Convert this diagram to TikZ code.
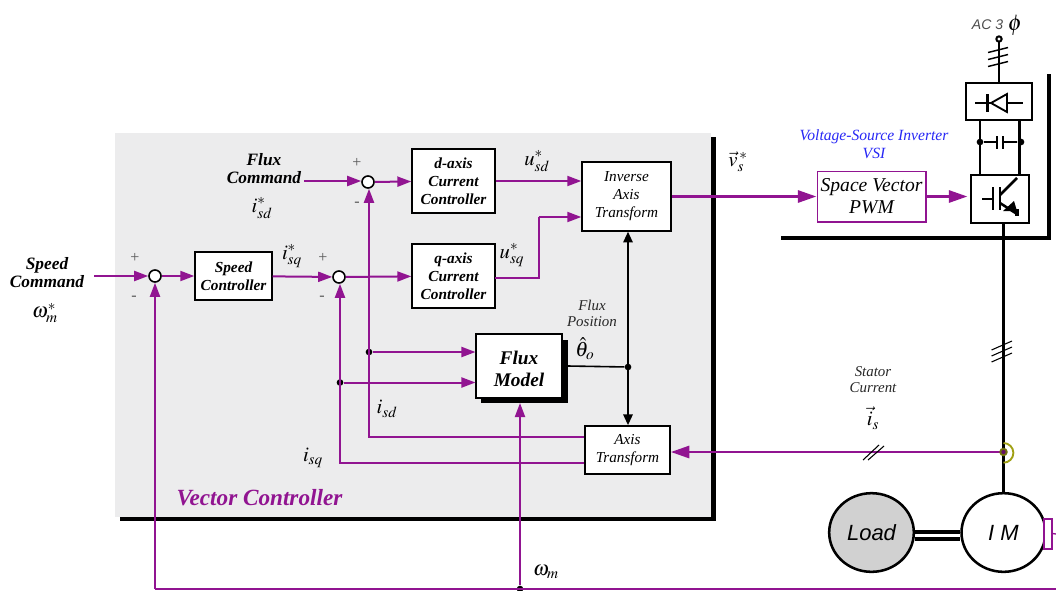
\documentclass[tikz,border=0pt]{standalone}
\usepackage{mathptmx}
\usepackage[no-math]{fontspec}
\setmainfont{Liberation Serif}
\setsansfont{Liberation Sans}
\usetikzlibrary{arrows.meta,shapes.geometric}

\definecolor{sigpurple}{RGB}{145,20,145}
\definecolor{panelgray}{RGB}{236,236,237}
\definecolor{vsiblue}{RGB}{40,40,245}
\definecolor{sensorolive}{RGB}{160,160,20}

\tikzset{
    sigline/.style={draw=sigpurple, line width=1.5pt, -{Triangle[length=10.5pt,width=7.5pt]}},
    sigplain/.style={draw=sigpurple, line width=1.5pt},
    sigbold/.style={draw=sigpurple, line width=2.2pt, -{Triangle[length=14pt,width=9pt]}},
    blkline/.style={draw=black, line width=1.3pt, {Triangle[length=8pt,width=7pt]}-{Triangle[length=8pt,width=7pt]}},
    pwrline/.style={draw=black, line width=1.9pt},
    ctrlbox/.style={draw=black, fill=white, line width=1.3pt, inner sep=0pt, align=center, font=\fontsize{11.5}{13.5}\selectfont\bfseries\itshape},
    axisbox/.style={draw=black, fill=white, line width=1.3pt, inner sep=0pt, align=center, font=\fontsize{11.4}{13.5}\selectfont\itshape},
    sumnode/.style={circle, draw=black, fill=white, line width=1.2pt, minimum size=9pt, inner sep=0pt},
    dotnode/.style={circle, fill=black, minimum size=5pt, inner sep=0pt},
    cmdtext/.style={inner sep=0pt, align=center, font=\fontsize{13}{13.5}\selectfont\bfseries\itshape},
    noteitext/.style={inner sep=0pt, align=center, font=\fontsize{11.2}{12}\selectfont\itshape, text=black!85},
    signtext/.style={inner sep=0pt, text=black!65, font=\fontsize{12}{12}\selectfont},
    mathlabel/.style={inner sep=0pt, font=\fontsize{15.5}{15.5}\selectfont},
    tickline/.style={draw=black, line width=.8pt},
}

\begin{document}
\begin{tikzpicture}[x=.75pt, y=-.75pt, line join=miter]
    \useasboundingbox (0,0) rectangle (1056,590);

    % 1. Controller panel with its black edge
    \fill[panelgray] (115,133) rectangle (711,517);
    \fill[black] (711,137) rectangle (716,521);
    \fill[black] (120,517) rectangle (716,521);

    % 2. Blocks
    \node[sumnode] (sumspeed) at (155,276) {};
    \node[sumnode] (sumq) at (339,277) {};
    \node[sumnode] (sumd) at (368,182) {};
    \node[ctrlbox, minimum width=57.5pt, minimum height=36pt] (speedctrl) at (233.5,276) {Speed\\Controller};
    \node[ctrlbox, minimum width=62pt, minimum height=48.5pt] (dctrl) at (453.5,181) {d-axis\\Current\\Controller};
    \node[ctrlbox, minimum width=62pt, minimum height=48.5pt] (qctrl) at (453.5,276) {q-axis\\Current\\Controller};
    \node[axisbox, minimum width=66.5pt, minimum height=51.5pt] (inverse) at (626.5,196.5) {Inverse\\Axis\\Transform};
    \node[axisbox, minimum width=63.5pt, minimum height=36pt] (axistrans) at (627.5,450) {Axis\\Transform};
    \fill[black] (481,340) rectangle (568,403);
    \node[ctrlbox, line width=.8pt, minimum width=64.5pt, minimum height=48pt, text height=31pt, font=\fontsize{14.5}{16.5}\selectfont\bfseries\itshape] (fluxmodel) at (519,366) {Flux\\Model};
    \node[draw=sigpurple, fill=white, line width=1pt, inner sep=0pt, align=center, minimum width=81.5pt, minimum height=38pt, font=\fontsize{14.7}{16.5}\selectfont\itshape] (svpwm) at (871.5,196.5) {Space Vector\\PWM};
    \node[draw=black, fill=white, line width=1.5pt, minimum width=49.5pt, minimum height=27.5pt, inner sep=0pt] (rectifier) at (998.5,101.5) {};
    \node[draw=black, fill=white, line width=1.5pt, minimum width=43pt, minimum height=36pt, inner sep=0pt] (inverter) at (1000,198.5) {};
    \node[ellipse, draw=black, fill=black!18, line width=1.9pt, minimum width=63.5pt, minimum height=59pt, inner sep=0pt, font=\fontsize{16.5}{16.5}\selectfont\sffamily\itshape] (load) at (871.5,532.5) {Load};
    \node[ellipse, draw=black, fill=white, line width=1.9pt, minimum width=63pt, minimum height=59pt, inner sep=0pt, font=\fontsize{16.5}{16.5}\selectfont\sffamily\itshape] (motor) at (1003.5,532.5) {I M};
    \node[draw=sigpurple, line width=1.5pt, fill=white, minimum width=6pt, minimum height=22.5pt, inner sep=0pt] (encoder) at (1047.5,533.5) {};

    % Text with a signal leaving it
    \node[cmdtext] (speedcmd) at (47,273) {Speed\\Command};
    \node[cmdtext] (fluxcmd) at (264,168.5) {Flux\\Command};

    % 3. Forward signals
    \coordinate (speedin) at (94,276);
    \coordinate (fluxin) at (304,181);
    \draw[sigline] (speedin) -- (sumspeed);
    \draw[sigline] (fluxin) -- (fluxin -| sumd.west);
    \draw[sigline] (sumspeed) -- (speedctrl);
    \draw[sigline] (speedctrl) -- (sumq);
    \draw[sigline] (sumq) -- (qctrl);
    \draw[sigline] (sumd) -- (dctrl);
    \draw[sigline] (dctrl.east) -- (dctrl.east -| inverse.west);
    \coordinate (uqa) at (495,278);
    \coordinate (uqb) at (538.5,278);
    \coordinate (uqc) at (538.5,217);
    \draw[sigplain] (uqa) -- (uqb) -- (uqc);
    \draw[sigline] (uqc) -- (uqc -| inverse.west);
    \draw[sigbold] (inverse.east) -- (svpwm.west);
    \draw[sigbold] (svpwm.east) -- ++(41,0);

    % 4. Feedback signals
    \coordinate (isdcorner) at (369,437);
    \coordinate (isqcorner) at (340,463);
    \coordinate (omegaleft) at (155,589);
    \coordinate (omegaright) at (1056,589);
    \node[dotnode] (jsd) at (369,352) {};
    \node[dotnode] (jsq) at (340,382.5) {};
    \node[dotnode] (jomega) at (520,589) {};
    \draw[sigline] (isdcorner -| axistrans.west) -- (isdcorner) -- (sumd.south -| isdcorner);
    \draw[sigline] (isqcorner -| axistrans.west) -- (isqcorner) -- (sumq.south -| isqcorner);
    \draw[sigline] (jsd) -- (jsd -| fluxmodel.west);
    \draw[sigline] (jsq) -- (jsq -| fluxmodel.west);
    \draw[sigplain, line width=1.2pt] (omegaleft) -- (omegaright);
    \draw[sigline] (omegaleft) -- (sumspeed);
    \draw[sigline] (jomega) -- (520,403);

    % 5. Flux position
    \node[dotnode] (jtheta) at (628,367) {};
    \draw[draw=black, line width=1.2pt] (568,366) -- (jtheta);
    \draw[blkline] (inverse.south -| jtheta) -- (axistrans.north -| jtheta);

    % 6. Power stage
    \coordinate (acin) at (999,39);
    \coordinate (sensor) at (1003.5,452);
    \draw[pwrline] (acin) -- (acin |- rectifier.north);
    \draw[fill=white, line width=1.5pt] (acin) circle (2pt);
    \foreach \ty in {50,57,64}
        \draw[tickline, line width=1.1pt] (988,\ty+2.5) -- (1008,\ty-2.5);
    \draw[pwrline] (980,120) -- (980,174);
    \draw[pwrline] (1019.5,120) -- (1019.5,174);
    \node[dotnode] (dcleft) at (980,142) {};
    \node[dotnode] (dcright) at (1021,142) {};
    \draw[pwrline] (dcleft) -- (997,142);
    \draw[pwrline] (1003,142) -- (dcright);
    \draw[pwrline] (997,136) -- (997,149);
    \draw[pwrline] (1003,136) -- (1003,149);

    % Diode in the rectifier
    \draw[pwrline] (975,103) -- (991,103);
    \draw[pwrline] (1007,103) -- (1023,103);
    \draw[pwrline] (987.5,94) -- (987.5,112);
    \draw[black, line width=1.4pt] (991,103) -- (1007,94) -- (1007,112) -- cycle;

    % Transistor in the inverter
    \draw[pwrline] (982,199) -- (993,199);
    \draw[pwrline] (993,187) -- (993,210);
    \draw[pwrline] (1000,187) -- (1000,210);
    \draw[pwrline] (1000,195) -- (1017,178);
    \draw[pwrline] (1000,203) -- (1017,214);
    \fill[black] (1003,211) -- (1014,201) -- (1017,211) -- cycle;
    \fill[black] (1015,209) rectangle (1019,216);

    % Cabinet line and motor feed
    \draw[black, line width=2.3pt] (781,238) -- (1049,238) -- (1049,74);
    \draw[pwrline, line width=2.2pt] (inverter.south -| sensor) -- (motor.north);
    \foreach \ty in {345,351,357}
        \draw[tickline] (991.5,\ty+5) -- (1012,\ty-4);

    % Load, shaft and encoder
    \draw[pwrline, line width=2.4pt] (load.east |- 0,532) -- (motor.west |- 0,532);
    \draw[pwrline, line width=2.4pt] (load.east |- 0,539) -- (motor.west |- 0,539);
    \draw[sigplain, line width=1pt] (encoder.east) -- (1056,534);

    % 7. Stator current
    \draw[sensorolive, line width=1.4pt] (1003.5,443) arc (90:-90:7.4pt);
    \draw[sigbold] (sensor) -- (sensor -| axistrans.east);
    \fill[sensorolive!70!black] (sensor) circle (3.2pt);
    \fill[sigpurple!70!black] (sensor) circle (1.6pt);
    \draw[tickline] (863,460) -- (879,445);
    \draw[tickline] (868,460) -- (884,446);

    % 8. Labels
    \node[signtext] (plusa) at (135,258) {+};
    \node[signtext] (minusa) at (134,298) {-};
    \node[signtext] (plusb) at (323,258) {+};
    \node[signtext] (minusb) at (322,298) {-};
    \node[signtext] (plusc) at (357,163) {+};
    \node[signtext] (minusc) at (357,204) {-};
    \node[mathlabel] (isdref) at (262,208) {$i_{sd}^{*}$};
    \node[mathlabel] (isqref) at (292,256) {$i_{sq}^{*}$};
    \node[mathlabel] (omegaref) at (45,313) {$\omega_{m}^{*}$};
    \node[mathlabel] (usdref) at (537,161) {$u_{sd}^{*}$};
    \node[mathlabel] (usqref) at (512,255) {$u_{sq}^{*}$};
    \node[mathlabel] (vref) at (738,162) {$\vec{v}_{s}^{\,*}$};
    \node[mathlabel] (isdfb) at (387,409) {$i_{sd}$};
    \node[mathlabel] (isqfb) at (313,458) {$i_{sq}$};
    \node[mathlabel] (thetafb) at (585,349) {$\hat{\theta}_{o}$};
    \node[mathlabel] (omegafb) at (546,572) {$\omega_{m}$};
    \node[mathlabel] (isfb) at (873,418) {$\vec{i}_{s}$};
    \node[noteitext] (fluxpos) at (592,313) {Flux\\Position};
    \node[noteitext] (stator) at (873,380) {Stator\\Current};
    \node[inner sep=0pt, text=sigpurple, font=\fontsize{17.4}{17.4}\selectfont\bfseries\itshape] (vectorctrl) at (259.5,498) {Vector Controller};
    \node[inner sep=0pt, align=center, text=vsiblue, font=\fontsize{11.7}{13.5}\selectfont\itshape] (vsi) at (874,144) {Voltage-Source Inverter\\VSI};
    \node[inner sep=0pt, text=black!70, font=\fontsize{10.5}{10.5}\selectfont\sffamily\itshape] (acthree) at (987.5,25) {AC 3};
    \node[mathlabel, font=\fontsize{17}{17}\selectfont] (phase) at (1015,25) {$\phi$};

\end{tikzpicture}
\end{document}
